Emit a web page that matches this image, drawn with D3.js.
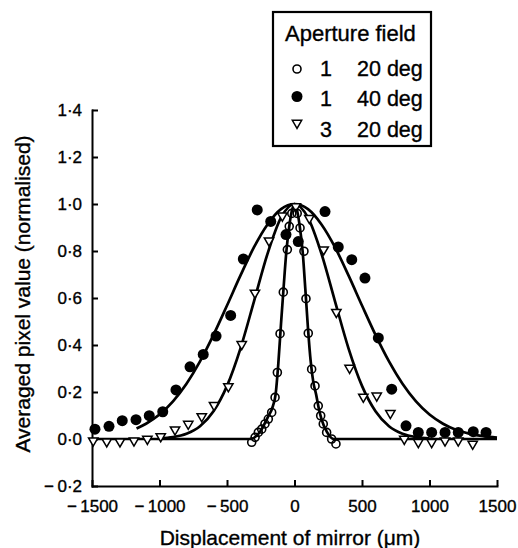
<!DOCTYPE html>
<html>
<head>
<meta charset="utf-8">
<script src="https://cdn.jsdelivr.net/npm/d3@7"></script>
<style>
  body { margin: 0; background: #fff; }
  text { font-family: "Liberation Sans", Arial, Helvetica, sans-serif; fill: #000; stroke: #000; stroke-width: 0.35px; }
  .axis path, .axis line { stroke: #000; stroke-width: 2; }
  .axis text { font-size: 17px; }
</style>
</head>
<body>
<div id="display"></div>
<script>
var xTicks = [-1500, -1000, -500, 0, 500, 1000, 1500];
var yTicks = [-0.2, 0, 0.2, 0.4, 0.6, 0.8, 1.0, 1.2, 1.4];

// legend rows: symbol, aperture, field
var legendRows = [
  {key: "open", aperture: "1", field: "20 deg"},
  {key: "filled", aperture: "1", field: "40 deg"},
  {key: "triangle", aperture: "3", field: "20 deg"}
];

// measured points (displacement um, normalised value)
var openPoints = [
  [-317, -0.014], [-292, 0.007], [-268, 0.028], [-243, 0.042], [-219, 0.064],
  [-194, 0.085], [-169, 0.113], [-144, 0.177], [-127, 0.283], [-107, 0.448],
  [-83, 0.625], [-53, 0.806], [-39, 0.905], [-20, 0.96],
  [20, 0.96], [41, 0.898], [70, 0.799], [85, 0.597], [102, 0.45], [127, 0.297],
  [152, 0.226], [176, 0.141], [194, 0.099], [213, 0.064], [238, 0.028],
  [275, 0.0], [307, -0.021]
];

var filledPoints = [
  [-1478, 0.042], [-1374, 0.054], [-1276, 0.078], [-1174, 0.082], [-1076, 0.099],
  [-976, 0.116], [-878, 0.209], [-774, 0.307], [-676, 0.36], [-581, 0.438],
  [-473, 0.526], [-379, 0.766], [-276, 0.975], [-176, 0.926], [-63, 0.87],
  [28, 0.84], [226, 0.968], [324, 0.817], [424, 0.763], [522, 0.685],
  [621, 0.43], [720, 0.212], [826, 0.056], [917, 0.028], [1016, 0.028],
  [1115, 0.028], [1213, 0.028], [1324, 0.031], [1419, 0.028]
];

var trianglePoints = [
  [-1491, -0.007], [-1391, -0.011], [-1293, -0.011], [-1189, -0.007], [-1090, 0.0],
  [-991, 0.011], [-885, 0.04], [-787, 0.064], [-687, 0.096], [-596, 0.144],
  [-490, 0.224], [-391, 0.403], [-293, 0.622], [-189, 0.844], [-90, 0.95],
  [10, 0.99], [110, 0.94], [216, 0.806], [310, 0.54], [408, 0.302],
  [510, 0.179], [609, 0.184], [710, 0.11], [813, 0.0], [917, -0.014],
  [1016, -0.014], [1115, -0.007], [1213, -0.007], [1320, -0.021]
];

// fitted curves
var curveNarrowX = [-1500, -330, -300, -250, -200, -160, -140, -120, -100, -80, -60, -40, -20, 0,
                    20, 40, 60, 80, 100, 120, 140, 160, 180, 200, 240, 290, 1500];
var curveNarrowY = [0, 0, 0.005, 0.035, 0.09, 0.14, 0.19, 0.32, 0.49, 0.65, 0.8, 0.9, 0.97, 1.0,
                    0.97, 0.9, 0.8, 0.64, 0.47, 0.33, 0.24, 0.19, 0.13, 0.085, 0.03, 0, 0];

var curveMidX = [-1000, -900, -800, -700, -600, -500, -400, -300, -200, -100, 0,
                 100, 200, 300, 400, 500, 600, 700, 800, 900, 1000];
var curveMidY = [0.003, 0.008, 0.022, 0.054, 0.118, 0.226, 0.386, 0.586, 0.788, 0.942, 1.0,
                 0.942, 0.788, 0.586, 0.386, 0.226, 0.118, 0.054, 0.022, 0.008, 0.003];

var curveWideX = [-1170, -1100, -1000, -900, -800, -700, -600, -500, -400, -300, -200, -100, 0,
                  100, 200, 300, 400, 500, 600, 700, 800, 900, 1000, 1100, 1200, 1300, 1400, 1500];
var curveWideY = [0.045, 0.065, 0.104, 0.16, 0.235, 0.33, 0.443, 0.568, 0.696, 0.816, 0.913, 0.978, 1.0,
                  0.978, 0.913, 0.816, 0.696, 0.568, 0.443, 0.33, 0.235, 0.16, 0.104, 0.065, 0.038, 0.022, 0.012, 0.006];

var svg = d3.select("#display").append("svg")
    .attr("width", 518)
    .attr("height", 548);

var x = d3.scaleLinear().domain([-1500, 1500]).range([92, 497]);
var y = d3.scaleLinear().domain([-0.2, 1.4]).range([486, 110]);

// journal style: raised decimal point, spaced minus
var fmtY = function(d) { return d3.format(".1f")(d).replace(".", "\u00b7").replace("\u2212", "\u2212\u2009"); };
var fmtX = function(d) { return d3.format("d")(d).replace("\u2212", "\u2212\u2009"); };

// axes
svg.append("g")
    .attr("class", "axis")
    .attr("transform", "translate(0," + y(-0.2) + ")")
    .call(d3.axisBottom(x).tickValues(xTicks).tickFormat(fmtX)
      .tickSizeInner(-6).tickSizeOuter(0).tickPadding(14));

svg.append("g")
    .attr("class", "axis")
    .attr("transform", "translate(" + x(-1500) + ",0)")
    .call(d3.axisLeft(y).tickValues(yTicks).tickFormat(fmtY)
      .tickSizeInner(-6).tickSizeOuter(0).tickPadding(10));

svg.selectAll(".axis .domain").attr("stroke-linecap", "square");

svg.append("text")
    .attr("transform", "translate(23," + 294 + ") rotate(-90)")
    .attr("text-anchor", "middle")
    .attr("dy", "0.35em")
    .style("font-size", "21px")
    .text("Averaged pixel value (normalised)");

svg.append("text")
    .attr("x", 290)
    .attr("y", 538)
    .attr("text-anchor", "middle")
    .attr("dy", "0.35em")
    .style("font-size", "21px")
    .text("Displacement of mirror (\u03bcm)");

// curves
var line = d3.line()
    .x(function(d) { return x(d[0]); })
    .y(function(d) { return y(d[1]); })
    .curve(d3.curveMonotoneX);

var curves = [
  d3.zip(curveNarrowX, curveNarrowY),
  d3.zip(curveMidX, curveMidY),
  d3.zip(curveWideX, curveWideY)
];

svg.append("g")
  .selectAll("path")
  .data(curves)
  .enter().append("path")
    .attr("d", line)
    .attr("fill", "none")
    .attr("stroke", "#000")
    .attr("stroke-width", 2.7);

// markers
var triangle = d3.symbol().type(d3.symbolTriangle).size(38);

svg.append("g")
  .selectAll("path")
  .data(trianglePoints)
  .enter().append("path")
    .attr("d", triangle)
    .attr("transform", function(d) { return "translate(" + x(d[0]) + "," + y(d[1]) + ") rotate(180)"; })
    .attr("fill", "#fff")
    .attr("stroke", "#000")
    .attr("stroke-width", 1.5);

svg.append("g")
  .selectAll("circle")
  .data(openPoints)
  .enter().append("circle")
    .attr("cx", function(d) { return x(d[0]); })
    .attr("cy", function(d) { return y(d[1]); })
    .attr("r", 4)
    .attr("fill", "none")
    .attr("stroke", "#000")
    .attr("stroke-width", 1.6);

svg.append("g")
  .selectAll("circle")
  .data(filledPoints)
  .enter().append("circle")
    .attr("cx", function(d) { return x(d[0]); })
    .attr("cy", function(d) { return y(d[1]); })
    .attr("r", 5.5)
    .attr("fill", "#000");

// legend
var legend = svg.append("g");

legend.append("rect")
    .attr("x", 273)
    .attr("y", 12)
    .attr("width", 158)
    .attr("height", 134)
    .attr("fill", "#fff")
    .attr("stroke", "#000")
    .attr("stroke-width", 2.2);

legend.append("text")
    .attr("x", 285)
    .attr("y", 33)
    .attr("dy", "0.35em")
    .style("font-size", "22px")
    .text("Aperture field");

var row = legend.selectAll(".row")
    .data(legendRows)
    .enter().append("g")
      .attr("class", "row")
      .attr("transform", function(d, i) { return "translate(0," + (68 + i * 30.5) + ")"; });

row.each(function(d) {
  var g = d3.select(this);
  if (d.key == "open")
    g.append("circle").attr("cx", 297).attr("cy", 1).attr("r", 4)
      .attr("fill", "none").attr("stroke", "#000").attr("stroke-width", 1.6);
  else if (d.key == "filled")
    g.append("circle").attr("cx", 297).attr("cy", -2).attr("r", 5.5).attr("fill", "#000");
  else
    g.append("path").attr("d", triangle)
      .attr("transform", "translate(297,-6) rotate(180)")
      .attr("fill", "#fff").attr("stroke", "#000").attr("stroke-width", 1.5);
});

row.append("text")
    .attr("x", 326)
    .attr("dy", "0.35em")
    .attr("text-anchor", "middle")
    .style("font-size", "21.5px")
    .text(function(d) { return d.aperture; });

row.append("text")
    .attr("x", 357)
    .attr("dy", "0.35em")
    .style("font-size", "21.5px")
    .text(function(d) { return d.field; });
</script>
</body>
</html>
